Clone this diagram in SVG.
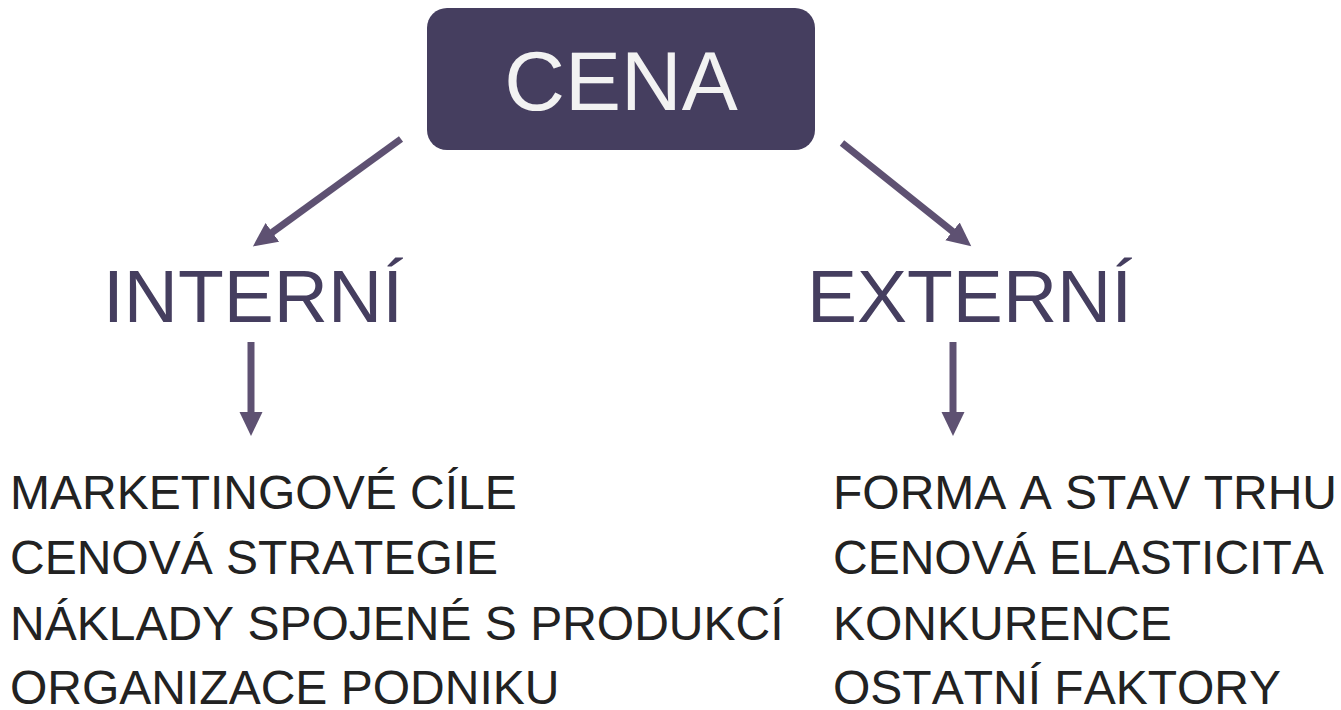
<svg xmlns="http://www.w3.org/2000/svg" width="1341" height="710" viewBox="0 0 1341 710">
  <style>
    text { font-family: "Liberation Sans", sans-serif; font-kerning: none; }
    .title { font-size: 84px; fill: #f2f2f2; }
    .head { font-size: 75px; fill: #453e5f; }
    .item { font-size: 48px; fill: #222222; }
    .conn { stroke: #5e5172; stroke-width: 7; fill: none; }
  </style>
  <defs>
    <marker id="arrow" viewBox="0 -12 25 24" markerWidth="25" markerHeight="24" refX="1" refY="0" orient="auto" markerUnits="userSpaceOnUse">
      <path d="M0,-11.5 L24,0 L0,11.5 Z" fill="#5e5172"/>
    </marker>
  </defs>
  <rect width="1341" height="710" fill="#ffffff"/>
  <g id="connectors">
    <line class="conn" x1="401" y1="139" x2="271.5" y2="232.9" marker-end="url(#arrow)"/>
    <line class="conn" x1="842" y1="143" x2="953.3" y2="232" marker-end="url(#arrow)"/>
    <line class="conn" x1="251" y1="342" x2="251" y2="413" marker-end="url(#arrow)"/>
    <line class="conn" x1="953" y1="342" x2="953" y2="413" marker-end="url(#arrow)"/>
  </g>
  <g id="cena">
    <rect x="427" y="8" width="388" height="142" rx="20" ry="20" fill="#453e5f"/>
    <text class="title" x="621" y="110" text-anchor="middle">CENA</text>
  </g>
  <g id="interni">
    <text class="head" x="103" y="322">INTERNÍ</text>
  </g>
  <g id="externi">
    <text class="head" x="807" y="322">EXTERNÍ</text>
  </g>
  <g id="interni-list">
    <text class="item" x="10" y="509">MARKETINGOVÉ CÍLE</text>
    <text class="item" x="10" y="574">CENOVÁ STRATEGIE</text>
    <text class="item" x="10" y="640">NÁKLADY SPOJENÉ S PRODUKCÍ</text>
    <text class="item" x="10" y="704">ORGANIZACE PODNIKU</text>
  </g>
  <g id="externi-list">
    <text class="item" x="833" y="509">FORMA A STAV TRHU</text>
    <text class="item" x="833" y="574">CENOVÁ ELASTICITA</text>
    <text class="item" x="833" y="640">KONKURENCE</text>
    <text class="item" x="833" y="704">OSTATNÍ FAKTORY</text>
  </g>
</svg>
